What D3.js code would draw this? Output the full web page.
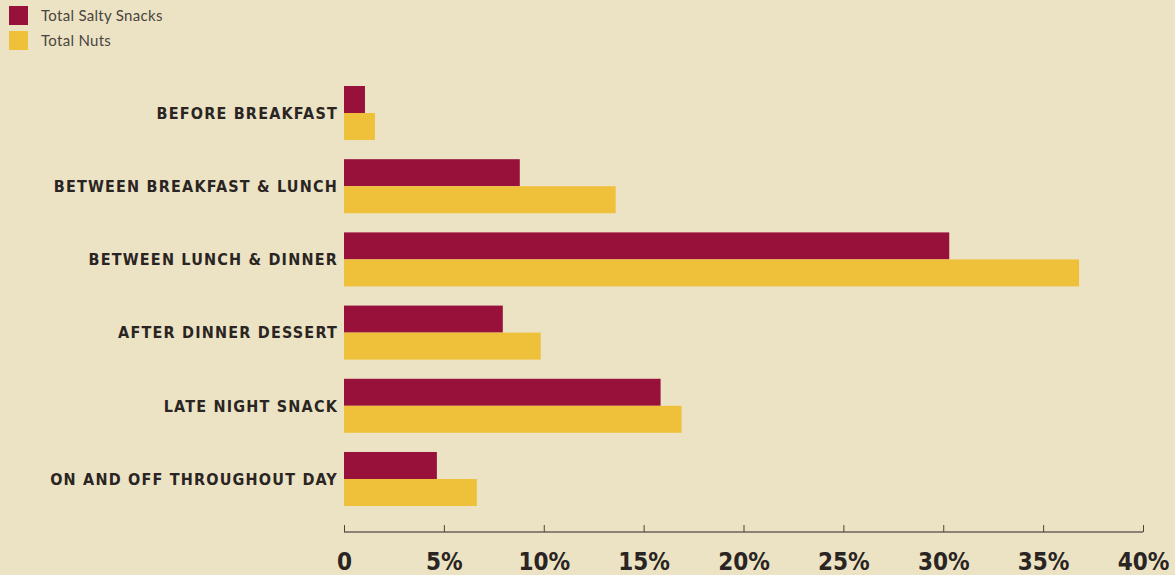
<!DOCTYPE html>
<html>
<head>
<meta charset="utf-8">
<script src="https://cdn.jsdelivr.net/npm/d3@7"></script>
<style>
  html, body { margin: 0; padding: 0; background: #ece3c5; }
  svg { display: block; }
</style>
</head>
<body>
<div class="bar-canvas"></div>
<script>
// values
var categories = [
  "BEFORE BREAKFAST",
  "BETWEEN BREAKFAST & LUNCH",
  "BETWEEN LUNCH & DINNER",
  "AFTER DINNER DESSERT",
  "LATE NIGHT SNACK",
  "ON AND OFF THROUGHOUT DAY"
];
var seriesNames = ["Total Salty Snacks", "Total Nuts"];
var saltySnacks = [1.05, 8.8, 30.3, 7.95, 15.85, 4.65];
var totalNuts = [1.55, 13.6, 36.8, 9.85, 16.9, 6.65];
var tickValues = [0, 5, 10, 15, 20, 25, 30, 35, 40];

var width = 1175, height = 575;
var colors = ["#98113a", "#efc13a"];

var svg = d3.select(".bar-canvas")
  .append("svg")
  .attr("width", width)
  .attr("height", height);

var x = d3.scaleLinear()
  .domain([0, 40])
  .range([344, 1143]);

var y = d3.scaleBand()
  .domain(categories)
  .range([86, 506])
  .paddingInner(0.262)
  .paddingOuter(0);

var ySub = d3.scaleBand()
  .domain([0, 1])
  .range([0, y.bandwidth()]);

var rows = categories.map(function (c, i) {
  return { cat: c, values: [saltySnacks[i], totalNuts[i]] };
});

var groups = svg.selectAll(".group")
  .data(rows)
  .enter()
  .append("g")
  .attr("transform", function (d) { return "translate(0," + y(d.cat) + ")"; });

groups.selectAll("rect")
  .data(function (d) { return d.values; })
  .enter()
  .append("rect")
  .attr("x", x(0))
  .attr("y", function (d, i) { return ySub(i); })
  .attr("width", function (d) { return x(d) - x(0); })
  .attr("height", ySub.bandwidth())
  .attr("fill", function (d, i) { return colors[i]; });

// category labels
svg.selectAll(".cat")
  .data(categories)
  .enter()
  .append("text")
  .attr("x", 338)
  .attr("y", function (d) { return y(d) + y.bandwidth() / 2; })
  .attr("dy", "0.36em")
  .attr("text-anchor", "end")
  .attr("font-family", "'DejaVu Sans Condensed', 'DejaVu Sans', sans-serif")
  .attr("font-stretch", "condensed")
  .attr("font-weight", "bold")
  .attr("font-size", 16)
  .attr("letter-spacing", 1.2)
  .attr("fill", "#2a2522")
  .text(function (d) { return d; });

// x axis
var xAxis = d3.axisTop(x)
  .tickValues(tickValues)
  .tickSize(7)
  .tickFormat(function (d) { return d === 0 ? "0" : d + "%"; });

var axisG = svg.append("g")
  .attr("transform", "translate(0,532)")
  .call(xAxis);

axisG.select(".domain")
  .attr("d", "M" + x(0) + ",0H" + x(40))
  .attr("stroke", "#6b6258")
  .attr("stroke-width", 1.5);
axisG.selectAll(".tick line")
  .attr("stroke", "#4a433d")
  .attr("stroke-width", 1);
axisG.selectAll(".tick text")
  .attr("y", 30)
  .attr("dy", "0.35em")
  .attr("font-family", "'DejaVu Sans Condensed', 'DejaVu Sans', sans-serif")
  .attr("font-stretch", "condensed")
  .attr("font-weight", "bold")
  .attr("font-size", 24)
  .attr("fill", "#2a2522");

// legend
var legend = svg.selectAll(".legend")
  .data(seriesNames)
  .enter()
  .append("g")
  .attr("transform", function (d, i) { return "translate(9," + (6 + i * 25) + ")"; });

legend.append("rect")
  .attr("width", 19)
  .attr("height", 19)
  .attr("fill", function (d, i) { return colors[i]; });

legend.append("text")
  .attr("x", 32)
  .attr("y", 9.5)
  .attr("dy", "0.35em")
  .attr("font-family", "Lato, 'Open Sans', sans-serif")
  .attr("font-size", 15)
  .attr("letter-spacing", 0.3)
  .attr("fill", "#4a4440")
  .text(function (d) { return d; });
</script>
</body>
</html>
